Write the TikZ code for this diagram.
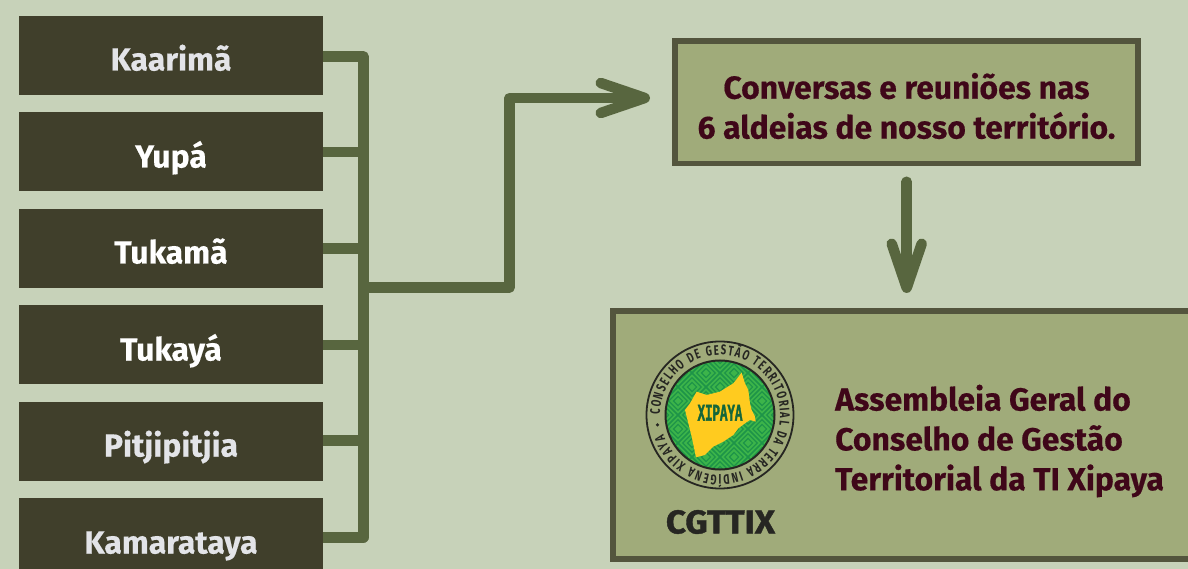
\documentclass[tikz,border=0pt]{standalone}
\usepackage{fontspec}
\usepackage{xcolor}
\usetikzlibrary{arrows.meta}
\usetikzlibrary{decorations.text}
\setmainfont[BoldFeatures={FakeBold=0.4}]{Fira Sans}
\newfontfamily\ringFont[FakeStretch=0.68]{Fira Sans}
\newfontfamily\markFont[FakeStretch=0.52, BoldFeatures={FakeBold=1.5}]{Liberation Mono}
\newfontfamily\cgFont[FakeStretch=1.06, FakeBold=1.2]{Fira Sans}
\definecolor{pageColor}{HTML}{C7D2B9}
\definecolor{nameBgColor}{HTML}{403F2B}
\definecolor{nameTextColorA}{HTML}{FFFFFF}
\definecolor{nameTextColorB}{HTML}{E3E4E8}
\definecolor{linkColor}{HTML}{58663F}
\definecolor{boxBgColor}{HTML}{A0AB7A}
\definecolor{boxLineColor}{HTML}{53553D}
\definecolor{boxTextColor}{HTML}{3F0719}
\definecolor{logoInkColor}{HTML}{262622}
\definecolor{logoGreenColor}{HTML}{3CB44A}
\definecolor{logoLineColor}{HTML}{1E9448}
\definecolor{logoYellowColor}{HTML}{FFCB1F}
\definecolor{logoMarkColor}{HTML}{14663A}
\tikzset{
nameBox/.style={fill=nameBgColor, inner sep=0pt, outer sep=0pt, minimum width=304bp,
  minimum height=79bp, text height=30bp, text depth=0pt,
  font=\fontsize{32}{32}\selectfont\bfseries},
mainBox/.style={draw=boxLineColor, fill=boxBgColor, line width=5.5bp, inner sep=0pt, outer sep=0pt},
mainText/.style={text=boxTextColor, inner sep=0pt, font=\fontsize{32}{40}\selectfont\bfseries},
link/.style={draw=linkColor, line width=10.5bp, line join=round},
arrowLink/.style={link, line cap=round, -{Straight Barb[round, length=44bp, width=30bp]}}
}
\begin{document}
\begin{tikzpicture}[x=1bp,y=-1bp]
\useasboundingbox (0, 0) rectangle (1188, 569);
\clip (0, 0) rectangle (1188, 569);
\fill[pageColor] (0, 0) rectangle (1188, 569);

% name boxes
\node[nameBox, text=nameTextColorB] (kaarima) at (171, 55.5) {Kaarimã};
\node[nameBox, text=nameTextColorA, text height=32bp] (yupa) at (171, 151.5) {Yupá};
\node[nameBox, text=nameTextColorA] (tukama) at (171, 248.5) {Tukamã};
\node[nameBox, text=nameTextColorA, text height=32bp] (tukaya) at (171, 344.5) {Tukayá};
\node[nameBox, text=nameTextColorB] (pitjipitjia) at (171, 441.5) {Pitjipitjia};
\node[nameBox, text=nameTextColorB, text height=32bp] (kamarataya) at (171, 537.5) {Kamarataya};

% main boxes
\node[mainBox, minimum width=463bp, minimum height=122.5bp] (conversas) at (906.5, 102.5) {};
\node[mainText, align=center] (conversasText) at (906.5, 106)
{Conversas e reuniões nas\\6 aldeias de nosso território.};
\node[mainBox, minimum width=600bp, minimum height=248bp] (assembleia) at (913, 435) {};
\node[mainText, align=left, anchor=west] (assembleiaText) at (835, 441)
{Assembleia Geral do\\Conselho de Gestão\\Territorial da TI Xipaya};

% link layer
\coordinate (trunkTop) at (363.3, 56.5);
\coordinate (trunkBottom) at (363.3, 537.3);
\coordinate (trunkOut) at (363.3, 287.5);
\coordinate (bendLow) at (509.5, 287.5);
\coordinate (bendHigh) at (509.5, 98);
\draw[link] (kaarima.east |- trunkTop) -- (trunkTop) -- (trunkBottom) -- (kamarataya.east |- trunkBottom);
\draw[link] (yupa.east |- 0, 152) -- (trunkTop |- 0, 152);
\draw[link] (tukama.east) -- (tukama.east -| trunkTop);
\draw[link] (tukaya.east |- 0, 345) -- (trunkTop |- 0, 345);
\draw[link] (pitjipitjia.east |- 0, 440.7) -- (trunkTop |- 0, 440.7);
\draw[arrowLink, shorten >=25bp] (trunkOut) -- (bendLow) -- (bendHigh) -- (bendHigh -| conversas.west);
\draw[arrowLink, shorten <=18bp, shorten >=18bp] (conversas.south -| 906.7, 0) -- (assembleia.north -| 906.7, 0);

% logo
\begin{scope}[shift={(720, 415)}]
\draw[logoInkColor, line width=1.8bp] (0, 0) circle (73.5);
\begin{scope}
\clip (0, 0) circle (54);
\fill[logoGreenColor] (-60, -60) rectangle (60, 60);
\foreach \i in {-3,...,3} {
  \foreach \j in {-3,...,3} {
    \foreach \r in {4.6, 9.3, 14} {
      \draw[logoLineColor, line width=1.2bp, shift={({(\i+\j)*14}, {(\i-\j)*14})}]
      (-\r, 0) -- (0, -\r) -- (\r, 0) -- (0, \r) -- cycle;
    }
  }
}
\end{scope}
\draw[logoInkColor, line width=2bp] (0, 0) circle (54.5);
\path[decorate, decoration={text along path, text align={fit to path},
  text={|\fontsize{14}{14}\ringFont\bfseries\color{logoInkColor}|CONSELHO DE GESTÃO TERRITORIAL DA TERRA INDÍGENA XIPAYA}}]
  (-180:60) arc[start angle=-180, end angle=161, radius=60];
\fill[logoInkColor] (171:63.3) circle (1.8);
\end{scope}
\begin{scope}[shift={(620, 320)}, x=0.3333bp, y=-0.3333bp]
\fill[logoYellowColor] (365, 158) -- (375, 190) -- (385, 210) -- (390, 250) -- (395, 270) -- (405, 290)
-- (407, 305) -- (390, 300) -- (375, 310) -- (355, 325) -- (340, 345) -- (310, 365) -- (280, 380)
-- (255, 405) -- (228, 412) -- (215, 350) -- (205, 310) -- (195, 270) -- (210, 250) -- (230, 215)
-- (260, 225) -- (300, 215) -- (340, 190) -- cycle;
\end{scope}
\node[text=logoMarkColor, inner sep=0pt, font=\fontsize{24}{24}\markFont\bfseries] (xipaya) at (720, 412.7) {XIPAYA};
\node[text=logoInkColor, inner sep=0pt, font=\fontsize{33}{33}\cgFont\bfseries] (cgttix) at (720.5, 522) {CGTTIX};
\end{tikzpicture}
\end{document}
